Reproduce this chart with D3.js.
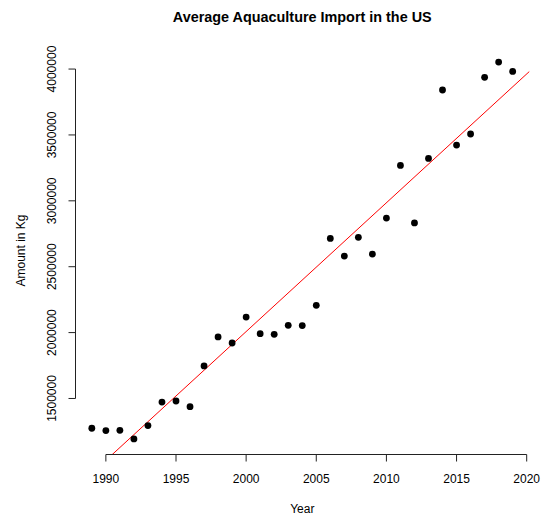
<!DOCTYPE html>
<html>
<head>
<meta charset="utf-8">
<script src="https://cdn.jsdelivr.net/npm/d3@7"></script>
<style>
  html, body { margin: 0; padding: 0; background: #fff; }
  svg { display: block; }
  text { font-family: "Liberation Sans", Arial, Helvetica, sans-serif; fill: #000; }
</style>
</head>
<body>
<div id="chart"></div>
<script>
// Yearly aquaculture imports (kg)
const years = [1989, 1990, 1991, 1992, 1993, 1994, 1995, 1996, 1997, 1998,
               1999, 2000, 2001, 2002, 2003, 2004, 2005, 2006, 2007, 2008,
               2009, 2010, 2011, 2012, 2013, 2014, 2015, 2016, 2017, 2018, 2019];
const amounts = [1274000, 1256000, 1258000, 1193000, 1294000, 1473000, 1481000, 1438000, 1747000, 1967000,
                 1921000, 2118000, 1992000, 1987000, 2055000, 2053000, 2207000, 2715000, 2581000, 2723000,
                 2596000, 2869000, 3269000, 2832000, 3322000, 3841000, 3423000, 3507000, 3937000, 4053000, 3982000];
const xTicks = [1990, 1995, 2000, 2005, 2010, 2015, 2020];
const yTicks = [1500000, 2000000, 2500000, 3000000, 3500000, 4000000];

const W = 541, H = 518;
const plot = { left: 75, right: 529.5, top: 47, bottom: 454 };
const axisColor = "#222";

const svg = d3.select("#chart").append("svg").attr("width", W).attr("height", H);

// Axis ranges padded by 4% on each side
const pad = ([a, b]) => { const r = b - a; return [a - 0.04 * r, b + 0.04 * r]; };
const x = d3.scaleLinear().domain(pad(d3.extent(years))).range([plot.left, plot.right]);
const y = d3.scaleLinear().domain(pad(d3.extent(amounts))).range([plot.bottom, plot.top]);

// Bottom axis
const xAxis = svg.append("g").attr("transform", `translate(0,${plot.bottom + 0.5})`);
xAxis.append("line")
  .attr("x1", x(xTicks[0])).attr("x2", x(xTicks[xTicks.length - 1]))
  .attr("stroke", axisColor).attr("stroke-width", 1);
xTicks.forEach(t => {
  const g = xAxis.append("g");
  g.append("line").attr("x1", x(t)).attr("x2", x(t)).attr("y1", 0).attr("y2", 7)
    .attr("stroke", axisColor);
  g.append("text").attr("x", x(t)).attr("y", 28)
    .attr("text-anchor", "middle").attr("font-size", 12).text(t);
});

// Left axis
const yAxis = svg.append("g").attr("transform", `translate(${plot.left + 0.5},0)`);
yAxis.append("line")
  .attr("y1", y(yTicks[0])).attr("y2", y(yTicks[yTicks.length - 1]))
  .attr("stroke", axisColor).attr("stroke-width", 1);
yTicks.forEach(t => {
  yAxis.append("line").attr("x1", -7).attr("x2", 0).attr("y1", y(t)).attr("y2", y(t))
    .attr("stroke", axisColor);
  yAxis.append("text")
    .attr("transform", `translate(-19.5,${y(t)}) rotate(-90)`)
    .attr("text-anchor", "middle").attr("font-size", 12).text(t);
});

// Least-squares trend line, clipped to the plotting region
const mx = d3.mean(years), my = d3.mean(amounts);
const slope = d3.sum(years, (v, i) => (v - mx) * (amounts[i] - my)) / d3.sum(years, v => (v - mx) ** 2);
const intercept = my - slope * mx;
svg.append("clipPath").attr("id", "plot-clip").append("rect")
  .attr("x", plot.left).attr("y", plot.top)
  .attr("width", plot.right - plot.left).attr("height", plot.bottom - plot.top);
const [x0, x1] = x.domain();
svg.append("line")
  .attr("clip-path", "url(#plot-clip)")
  .attr("x1", x(x0)).attr("y1", y(intercept + slope * x0))
  .attr("x2", x(x1)).attr("y2", y(intercept + slope * x1))
  .attr("stroke", "#ff0000").attr("stroke-width", 1);

// Data points
svg.append("g").selectAll("circle")
  .data(years.map((yr, i) => [yr, amounts[i]]))
  .join("circle")
  .attr("cx", d => x(d[0])).attr("cy", d => y(d[1])).attr("r", 3.4)
  .attr("fill", "#000");

// Titles
svg.append("text").attr("x", (plot.left + plot.right) / 2).attr("y", 22)
  .attr("text-anchor", "middle").attr("font-size", 14.4).attr("font-weight", "bold")
  .text("Average Aquaculture Import in the US");
svg.append("text").attr("x", (plot.left + plot.right) / 2).attr("y", 513)
  .attr("text-anchor", "middle").attr("font-size", 12).text("Year");
svg.append("text")
  .attr("transform", `translate(25,${(plot.top + plot.bottom) / 2}) rotate(-90)`)
  .attr("text-anchor", "middle").attr("font-size", 12).text("Amount in Kg");
</script>
</body>
</html>
